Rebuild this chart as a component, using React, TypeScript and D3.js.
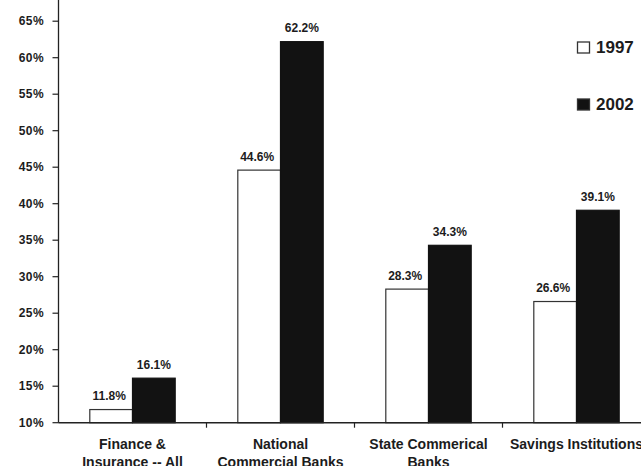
import React from "react";
import * as d3 from "d3";

const categories = [
  ["Finance &", "Insurance -- All"],
  ["National", "Commercial Banks"],
  ["State Commerical", "Banks"],
  ["Savings Institutions", ""],
];
const series = ["1997", "2002"];
const values1997 = [11.8, 44.6, 28.3, 26.6];
const values2002 = [16.1, 62.2, 34.3, 39.1];
const yTicks = [10, 15, 20, 25, 30, 35, 40, 45, 50, 55, 60, 65];

const W = 641;
const H = 466;

export default function App() {
  const x0 = 58.5;
  const step = 148;
  const x = d3
    .scaleBand<number>()
    .domain(d3.range(categories.length))
    .range([x0, x0 + step * categories.length])
    .paddingInner(0.423)
    .paddingOuter(0.2115);
  const xs = d3.scaleBand<string>().domain(series).range([0, x.bandwidth()]);
  const y = d3.scaleLinear().domain([10, 65]).range([422.7, 21.2]);
  const font = "Arial, 'Liberation Sans', sans-serif";
  const ink = "#1c1c1c";
  const data = [values1997, values2002];

  return (
    <svg
      width={W}
      height={H}
      style={{ position: "absolute", left: 0, top: 0, background: "#fff" }}
      fontFamily={font}
    >
      {/* bars */}
      {categories.map((_, i) =>
        series.map((s, j) => {
          const v = data[j][i];
          const bx = (x(i) as number) + (xs(s) as number);
          return (
            <g key={`${i}-${j}`}>
              <rect
                x={bx}
                y={y(v)}
                width={xs.bandwidth()}
                height={y(10) - y(v)}
                fill={j === 0 ? "#fff" : "#121212"}
                stroke={j === 0 ? "#333" : "#121212"}
                strokeWidth={1.2}
              />
              <text
                x={bx + xs.bandwidth() / 2 - (j === 0 ? 2 : 0)}
                y={y(v) - 9.5}
                textAnchor="middle"
                fontSize={12}
                fontWeight="bold"
                fill={ink}
              >
                {v.toFixed(1)}%
              </text>
            </g>
          );
        })
      )}
      {/* y axis */}
      <line x1={x0} x2={x0} y1={0} y2={y(10)} stroke="#222" strokeWidth={1.3} />
      {yTicks.map((t) => (
        <g key={t}>
          <line x1={x0 - 6} x2={x0} y1={y(t)} y2={y(t)} stroke="#222" strokeWidth={1.2} />
          <text
            x={44}
            y={y(t)}
            dy="0.35em"
            textAnchor="end"
            fontSize={12}
            fontWeight="bold"
            letterSpacing={0.4}
            fill={ink}
          >
            {t}%
          </text>
        </g>
      ))}
      {/* x axis */}
      <line x1={x0} x2={W} y1={y(10)} y2={y(10)} stroke="#222" strokeWidth={1.4} />
      {d3.range(1, categories.length).map((k) => (
        <line
          key={k}
          x1={x0 + step * k}
          x2={x0 + step * k}
          y1={y(10)}
          y2={y(10) + 5}
          stroke="#222"
          strokeWidth={1.2}
        />
      ))}
      {categories.map((lines, i) => {
        const cx = (x(i) as number) + x.bandwidth() / 2;
        return (
          <text
            key={i}
            x={cx}
            textAnchor="middle"
            fontSize={14}
            fontWeight="bold"
            fill={ink}
          >
            <tspan x={cx} y={449}>
              {lines[0]}
            </tspan>
            <tspan x={cx} y={467}>
              {lines[1]}
            </tspan>
          </text>
        );
      })}
      {/* legend */}
      {series.map((s, j) => {
        const base = j === 0 ? 53 : 110;
        return (
          <g key={s}>
            <rect
              x={577.5}
              y={base - 11}
              width={12}
              height={11}
              fill={j === 0 ? "#fff" : "#121212"}
              stroke="#333"
              strokeWidth={1.3}
            />
            <text x={596} y={base} fontSize={17} fontWeight="bold" fill={ink}>
              {s}
            </text>
          </g>
        );
      })}
    </svg>
  );
}
